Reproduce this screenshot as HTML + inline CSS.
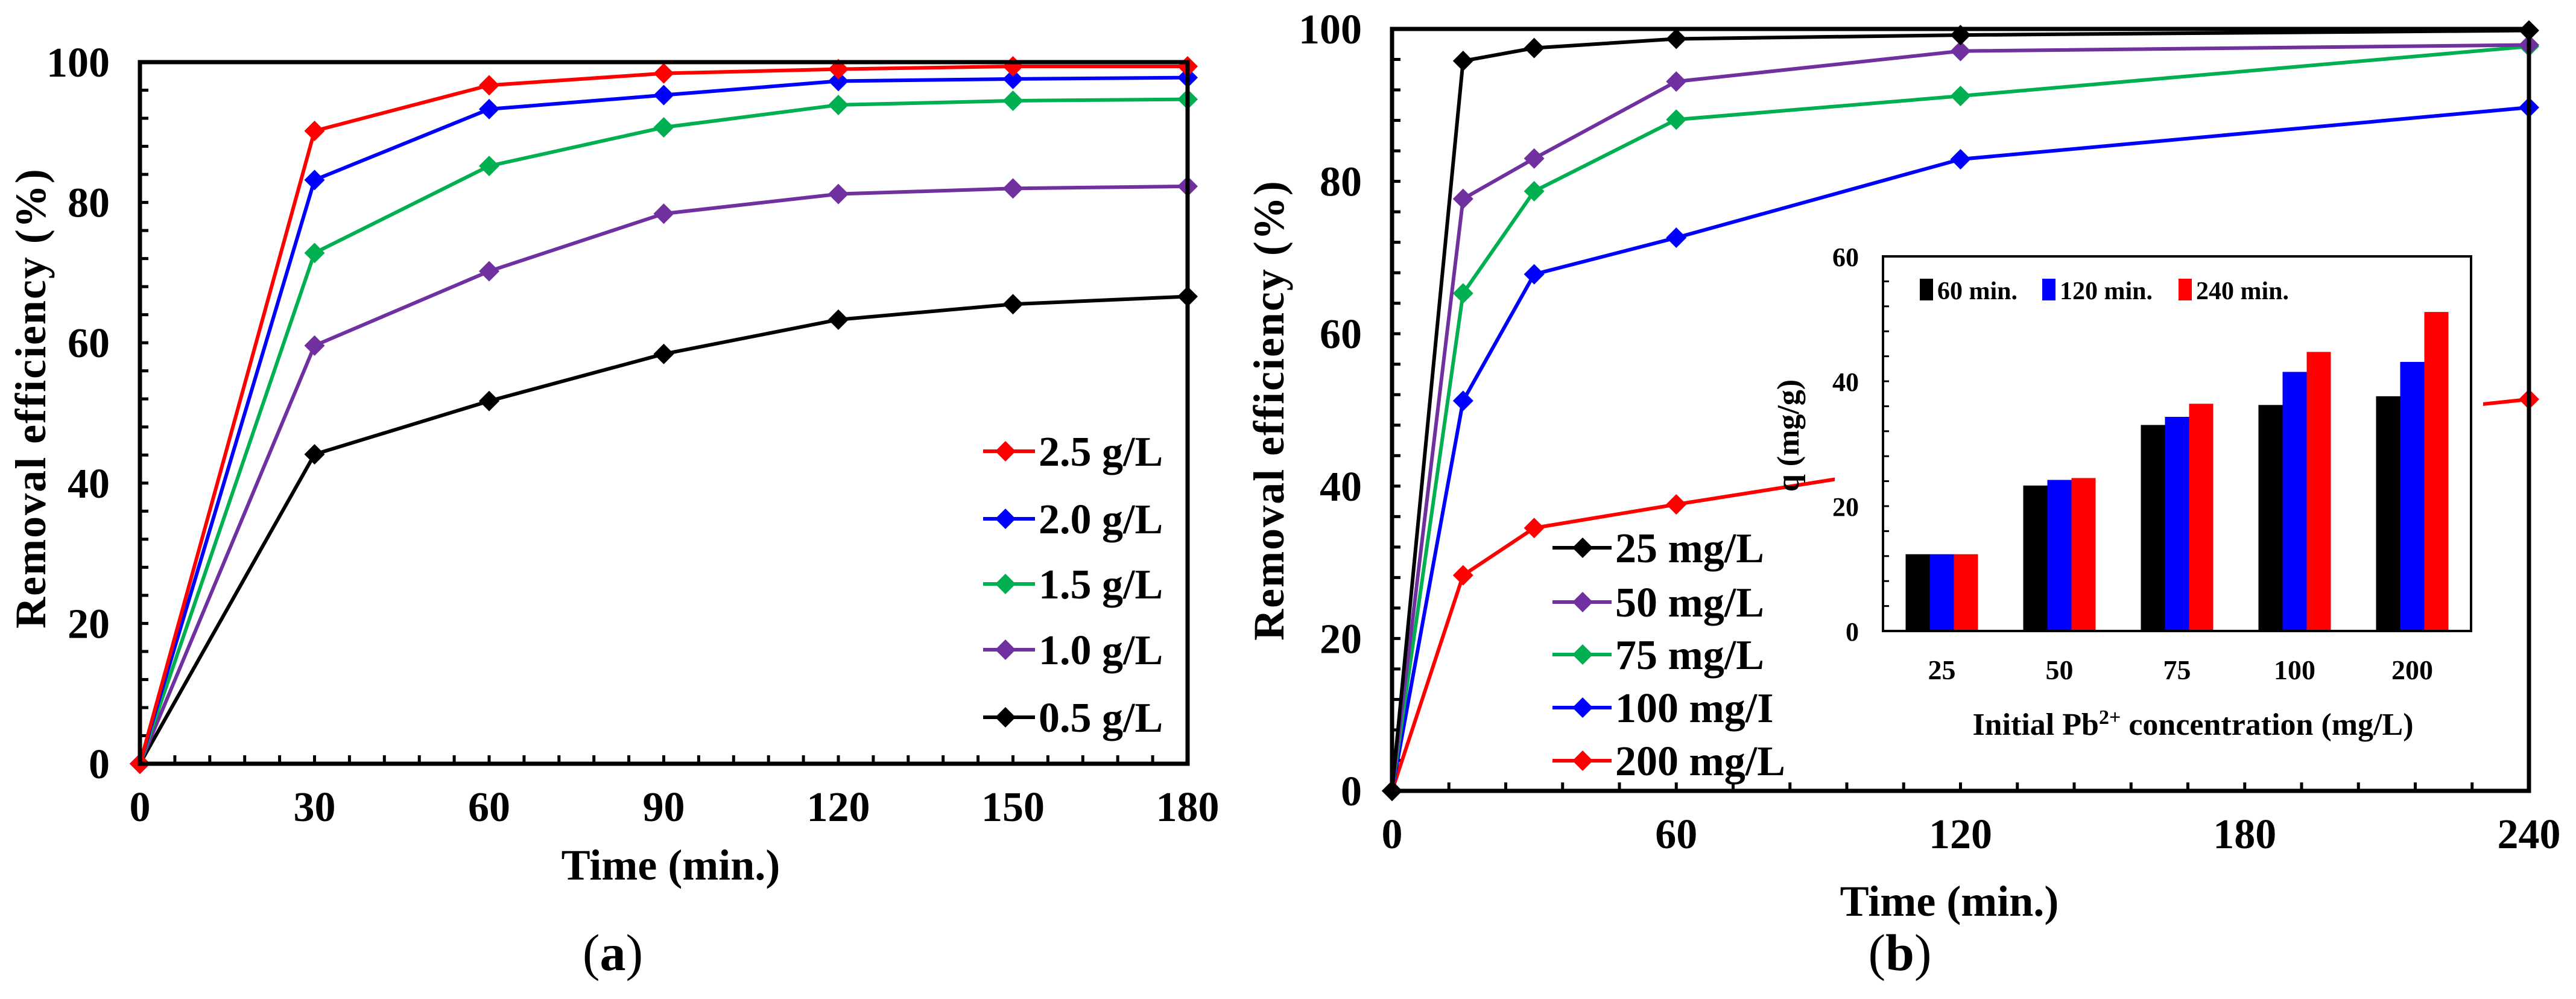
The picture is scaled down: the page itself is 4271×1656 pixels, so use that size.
<!DOCTYPE html>
<html><head><meta charset="utf-8"><style>
html,body{margin:0;padding:0;background:#fff;}
svg{display:block;font-family:"Liberation Serif",serif;}
</style></head><body>
<svg id="svg" width="4271" height="1656" viewBox="0 0 4271 1656" xmlns="http://www.w3.org/2000/svg"></svg>
<script>
// ---- Data (a) ----
const timesA = [0,30,60,90,120,150,180];
const labelsA = ["2.5 g/L","2.0 g/L","1.5 g/L","1.0 g/L","0.5 g/L"];
const red25 = [0,90.2,96.7,98.4,99.0,99.4,99.4];
const blue20 = [0,83.2,93.3,95.3,97.3,97.6,97.8];
const green15 = [0,72.8,85.2,90.7,93.9,94.5,94.7];
const purple10 = [0,59.6,70.2,78.4,81.2,82.0,82.3];
const black05 = [0,44.1,51.7,58.4,63.3,65.5,66.6];
const xTicksA = [0,30,60,90,120,150,180];
const yTicks = [0,20,40,60,80,100];
// ---- Data (b) ----
const timesB = [0,15,30,60,120,240];
const labelsB = ["25 mg/L","50 mg/L","75 mg/L","100 mg/I","200 mg/L"];
const c25 = [0,95.8,97.5,98.7,99.2,99.8];
const c50 = [0,77.7,83.0,93.1,97.1,97.9];
const c75 = [0,65.3,78.7,88.1,91.2,97.7];
const c100 = [0,51.2,67.8,72.6,82.9,89.7];
const c200 = [0,28.3,34.5,37.6,43.5,51.4];
const xTicksB = [0,60,120,180,240];
// ---- Inset data ----
const insetCats = ["25","50","75","100","200"];
const q60 = [12.3,23.3,33.0,36.2,37.6];
const q120 = [12.3,24.2,34.3,41.5,43.1];
const q240 = [12.3,24.5,36.4,44.7,51.1];
const insetTicks = [0,20,40,60];
const insetSeries = ["60 min.","120 min.","240 min."];

const NS="http://www.w3.org/2000/svg";
const svg=document.getElementById('svg');
function el(tag,attrs,parent,text){const e=document.createElementNS(NS,tag);for(const k in attrs)e.setAttribute(k,attrs[k]);if(text!==undefined)e.textContent=text;(parent||svg).appendChild(e);return e;}
const COL={red:"#ff0000",blue:"#0000ff",green:"#00b050",purple:"#7030a0",black:"#000000"};

function diamond(g,x,y,c,r){const p=el('polygon',{points:`${x},${y-r} ${x+r},${y} ${x},${y+r} ${x-r},${y}`,fill:c},g);

return p;}

function drawPanel(o){
  const g=el('g',{});
  
  
  const X=v=>o.x0+(v-o.xmin)/(o.xmax-o.xmin)*(o.x1-o.x0);
  const Y=v=>o.y1-(v/100)*(o.y1-o.y0);
  for(let v=0;v<=100;v+=4){const t=el('line',{x1:o.x0,x2:o.x0+14,y1:Y(v),y2:Y(v),stroke:'#000','stroke-width':5},g);}
  for(let v=o.xmin;v<=o.xmax;v+=o.xminor){const t=el('line',{x1:X(v),x2:X(v),y1:o.y1,y2:o.y1-14,stroke:'#000','stroke-width':5},g);}
  o.series.forEach((s)=>{
    const sg=el('g',{},g);
    
    
    const pts=s.vals.map((v,i)=>X(o.xs[i])+','+Y(v)).join(' ');
    el('polyline',{points:pts,fill:'none',stroke:s.c,'stroke-width':6,'stroke-linejoin':'round'},sg);
    s.vals.forEach((v,i)=>diamond(sg,X(o.xs[i]),Y(v),s.c,17));
  });
  const fr=el('rect',{x:o.x0,y:o.y0,width:o.x1-o.x0,height:o.y1-o.y0,fill:'none',stroke:'#000','stroke-width':7},g);
  
  yTicks.forEach(v=>{const t=el('text',{x:o.x0-50,y:Y(v)+24,'text-anchor':'end','font-size':70,'font-weight':'bold'},g,String(v));});
  o.xticks.forEach(v=>{const t=el('text',{x:X(v),y:o.y1+95,'text-anchor':'middle','font-size':70,'font-weight':'bold'},g,String(v));});
  const xt=el('text',{x:o.xtx,y:o.xty,'text-anchor':'middle','font-size':72,'font-weight':'bold'},g,'Time  (min.)');
  
  const yt=el('text',{x:0,y:0,transform:`translate(${o.ytx},${o.yty}) rotate(-90)`,'text-anchor':'middle','font-size':72,'font-weight':'bold','letter-spacing':2},g,'Removal efficiency (%)');
  
  return {g,X,Y};
}

drawPanel({name:'panel-a',x0:232,x1:1969,y0:103,y1:1266,xmin:0,xmax:180,xminor:6,xs:timesA,xticks:xTicksA,
  series:[{label:labelsA[0],vals:red25,c:COL.red},{label:labelsA[1],vals:blue20,c:COL.blue},{label:labelsA[2],vals:green15,c:COL.green},{label:labelsA[3],vals:purple10,c:COL.purple},{label:labelsA[4],vals:black05,c:COL.black}].reverse(),
  xtx:1112,xty:1458,ytx:75,yty:660});

const legA=el('g',{});
const colsA=[COL.red,COL.blue,COL.green,COL.purple,COL.black];
[748,860,968,1077,1189].forEach((y,i)=>{
  const e=el('g',{},legA);
  el('line',{x1:1630,x2:1716,y1:y,y2:y,stroke:colsA[i],'stroke-width':6},e);
  diamond(e,1667,y,colsA[i],17);
  el('text',{x:1722,y:y+24,'font-size':70,'font-weight':'bold'},e,labelsA[i]);
});
const la=el('text',{x:1016,y:1608,'text-anchor':'middle','font-size':86},svg);
la.innerHTML='(<tspan font-weight="bold">a</tspan>)';

drawPanel({name:'panel-b',x0:2308,x1:4193,y0:48,y1:1311,xmin:0,xmax:240,xminor:12,xs:timesB,xticks:xTicksB,
  series:[{label:labelsB[4],vals:c200,c:COL.red},{label:labelsB[3],vals:c100,c:COL.blue},{label:labelsB[2],vals:c75,c:COL.green},{label:labelsB[1],vals:c50,c:COL.purple},{label:labelsB[0],vals:c25,c:COL.black}],
  xtx:3232,xty:1518,ytx:2128,yty:680});

const legB=el('g',{});
const colsB=[COL.black,COL.purple,COL.green,COL.blue,COL.red];
[908,998,1085,1173,1261].forEach((y,i)=>{
  const e=el('g',{},legB);
  el('line',{x1:2574,x2:2672,y1:y,y2:y,stroke:colsB[i],'stroke-width':6},e);
  diamond(e,2624,y,colsB[i],17);
  el('text',{x:2678,y:y+24,'font-size':70,'font-weight':'bold'},e,labelsB[i]);
});
const lb=el('text',{x:3150,y:1608,'text-anchor':'middle','font-size':86},svg);
lb.innerHTML='(<tspan font-weight="bold">b</tspan>)';

// inset
const ig=el('g',{});
const IX0=3122,IX1=4097,IY0=425,IY1=1046;
el('rect',{x:IX0-80,y:IY0-20,width:IX1-IX0+100,height:IY1-IY0+40,fill:'#fff'},ig);
const IY=v=>IY1-(v/60)*(IY1-IY0);
const cw=(IX1-IX0)/insetCats.length;
const BW=40;
const IXc=i=>IX0+cw*(i+0.5);
const barSets=[[q60,'#000000'],[q120,'#0000ff'],[q240,'#ff0000']];
insetCats.forEach((c,i)=>{
  barSets.forEach(([arr,col],j)=>{
    const b=el('rect',{x:IXc(i)+(j-1.5)*BW,y:IY(arr[i]),width:BW,height:IY1-IY(arr[i]),fill:col},ig);
    
    
  });
  const t=el('text',{x:IXc(i),y:1126,'text-anchor':'middle','font-size':46,'font-weight':'bold'},ig,c);
  
});
for(let v=0;v<=60;v+=4){el('line',{x1:IX0,x2:IX0+10,y1:IY(v),y2:IY(v),stroke:'#000','stroke-width':3},ig);}
insetTicks.forEach(v=>{const t=el('text',{x:IX0-40,y:IY(v)+16,'text-anchor':'end','font-size':44,'font-weight':'bold'},ig,String(v));});
const ifr=el('rect',{x:IX0,y:IY0,width:IX1-IX0,height:IY1-IY0,fill:'none',stroke:'#000','stroke-width':4},ig);

const ixt=el('text',{x:3636,y:1218,'text-anchor':'middle','font-size':52,'font-weight':'bold'},ig);

ixt.innerHTML='Initial Pb<tspan dy="-18" font-size="34">2+</tspan><tspan dy="18"> concentration (mg/L)</tspan>';
const iyt=el('text',{x:0,y:0,transform:'translate(2982,722) rotate(-90)','text-anchor':'middle','font-size':52,'font-weight':'bold'},ig,'q (mg/g)');

const ilg=el('g',{},ig);
[[3183,3212,'#000'],[3386,3415,'#0000ff'],[3612,3641,'#ff0000']].forEach(([sx,tx,c],j)=>{
  const e=el('g',{},ilg);
  el('rect',{x:sx,y:462,width:22,height:36,fill:c},e);
  el('text',{x:tx,y:496,'font-size':42,'font-weight':'bold'},e,insetSeries[j]);
});
</script>
</body></html>
